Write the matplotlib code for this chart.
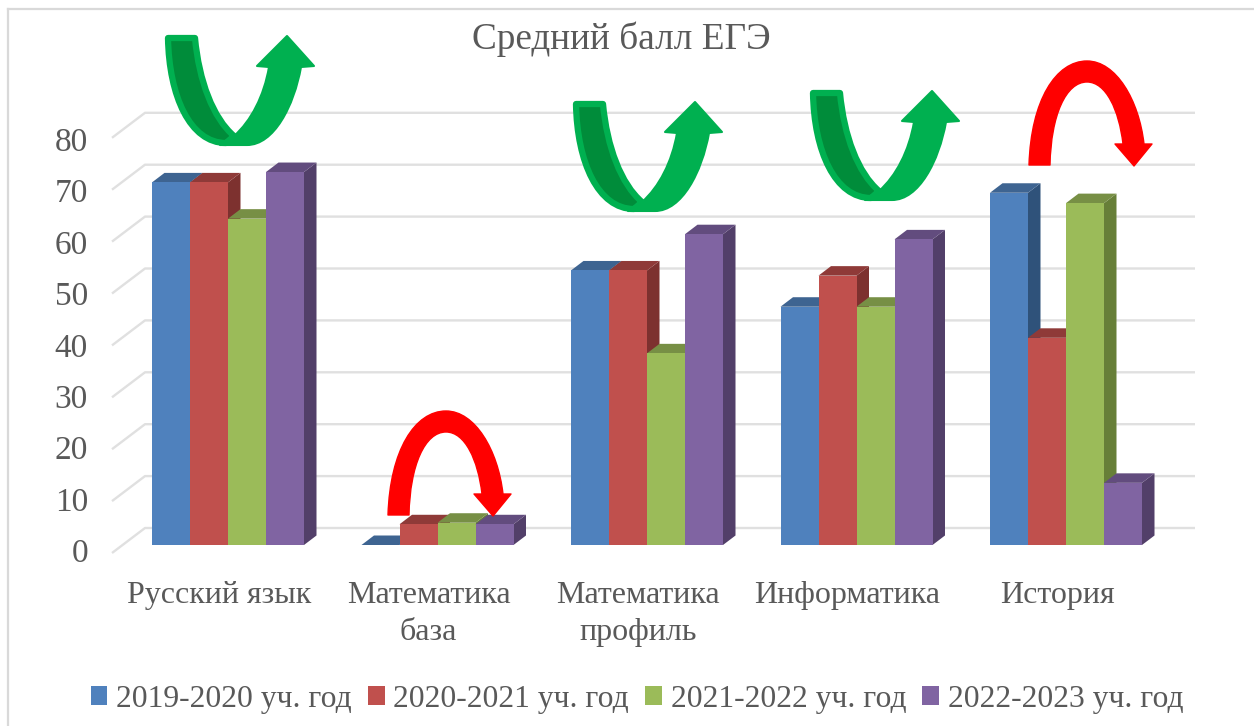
import numpy as np
import matplotlib
matplotlib.use("Agg")
import matplotlib.pyplot as plt
from matplotlib.path import Path
from matplotlib.patches import PathPatch
from matplotlib.transforms import Affine2D

categories = ["Русский язык", "Математика\nбаза", "Математика\nпрофиль", "Информатика", "История"]
years = ["2019-2020 уч. год", "2020-2021 уч. год", "2021-2022 уч. год", "2022-2023 уч. год"]
y2019 = [70, 0, 53, 46, 68]
y2020 = [70, 4, 53, 52, 40]
y2021 = [63, 4.3, 37, 46, 66]
y2022 = [72, 4, 60, 59, 12]
ticks = [0, 10, 20, 30, 40, 50, 60, 70, 80]

front = ["#4F81BD", "#C0504D", "#9BBB59", "#8064A2"]
top = ["#3E6491", "#8F3A38", "#778F45", "#624C7E"]
side = ["#2F527A", "#7D312F", "#677F38", "#523F69"]

W, H = 1254, 726
plt.rcParams["font.family"] = ["Liberation Serif", "DejaVu Serif"]
fig = plt.figure(figsize=(W / 100, H / 100), dpi=100)
ax = fig.add_axes([0, 0, 1, 1])

# one category = 209.5 px, one point = 5.18 px
xu, yu = 209.5, 5.18
ax.set_xlim(-228 / xu, (W - 228) / xu)
ax.set_ylim(-(H - 545) / yu, 545 / yu)
ax.axis("off")

bw = 38 / xu
dx, dy = 12.5 / xu, 9.5 / yu

# gridlines on the back wall with the slanted part on the left side
gx0, gx1, gx2 = (112 - 228) / xu, (145 - 228) / xu, (1195 - 228) / xu
for t in ticks:
    yb = t * 51.9 / 51.8 + 17 / yu
    ax.plot([gx0, gx1, gx2], [yb - 25 / yu, yb, yb], color="#E0E0E0", lw=1.7, zorder=1,
            solid_capstyle="butt")

x = np.arange(len(categories))
series = [y2019, y2020, y2021, y2022]
for i, vals in enumerate(series):
    xs = x + (i - 1.5) * bw
    for xc, v in zip(xs, vals):
        l, r = xc - bw / 2, xc + bw / 2
        z = 3 + i
        ax.fill([r, r + dx, r + dx, r], [0, dy, v + dy, v], color=side[i], lw=0, zorder=z)
        ax.fill([l, l + dx, r + dx, r], [v, v + dy, v + dy, v], color=top[i], lw=0, zorder=z)
    ax.bar(xs, vals, width=bw, color=front[i], label=years[i], zorder=3 + i, linewidth=0)

txt = "#595959"
for t in ticks:
    ax.text((88 - 228) / xu, (545 - (554 - t * 5.14)) / yu, str(t), ha="right", va="center",
            fontsize=24, color=txt, zorder=8)
for xc, lab in zip(x, categories):
    ax.text(xc - 9 / xu, (545 - 581) / yu, lab, ha="center", va="top", fontsize=23,
            color=txt, linespacing=1.38, zorder=8)
ax.text((621 - 228) / xu, (545 - 39) / yu, "Средний балл ЕГЭ", ha="center", va="center",
        fontsize=26.8, color=txt, zorder=8)

leg = ax.legend(loc="center", bbox_to_anchor=(637 / W, 1 - 699 / H), ncol=4, frameon=False,
                fontsize=22.8, labelcolor=txt, handlelength=0.53, handleheight=0.53,
                handletextpad=0.28, columnspacing=0.5, borderpad=0, borderaxespad=0)

px = Affine2D().scale(1, -1).translate(0, H)
M, C, Z = Path.MOVETO, Path.CURVE4, Path.CLOSEPOLY
L = Path.LINETO


def shape(points, codes, x0, y0, **kw):
    p = Path(np.array(points, dtype=float) + [x0, y0], codes)
    ax.add_patch(PathPatch(p, transform=px, zorder=9, **kw))


def green_arrow(x0, y0):
    # left ribbon, darker with a green outline
    shape([(2, 2), (3, 60), (24, 107), (60, 107), (68, 100), (47, 82), (33, 45), (29, 2), (2, 2)],
          [M, C, C, C, L, C, C, C, Z], x0, y0, fc="#008C3A", ec="#00B050", lw=4.5, joinstyle="round")
    # right ribbon with the head
    shape([(54, 109), (81, 109), (108, 109), (128, 70), (135, 31), (148, 30), (121, 0), (91, 30),
           (103, 31), (98, 60), (85, 85), (68, 100), (54, 109)],
          [M, L, C, C, C, L, L, L, L, C, C, C, Z], x0, y0,
          fc="#00B050", ec="#00B050", lw=1.5, joinstyle="round")


def red_arrow(x0, y0):
    shape([(0, 104), (2, 39), (27, 0), (58, 0), (87, 0), (110, 39), (115, 83), (123, 83), (105, 105),
           (86, 83), (94, 83), (90, 49), (77, 21), (58, 21), (37, 21), (22, 54), (21, 104), (0, 104)],
          [M, C, C, C, C, C, C, L, L, L, L, C, C, C, C, C, C, Z], x0, y0,
          fc="#FF0000", ec="#FF0000", lw=1, joinstyle="round")


green_arrow(166, 36)
green_arrow(574, 102)
green_arrow(811, 91)
red_arrow(388, 411)
red_arrow(1029, 61)

# frame of the picture
fig.add_artist(plt.Line2D([8, 8], [H, 9], transform=px, color="#D9D9D9", lw=1.6))
fig.add_artist(plt.Line2D([8, W], [9, 9], transform=px, color="#D9D9D9", lw=1.6))

fig.savefig("out.png", dpi=100)
